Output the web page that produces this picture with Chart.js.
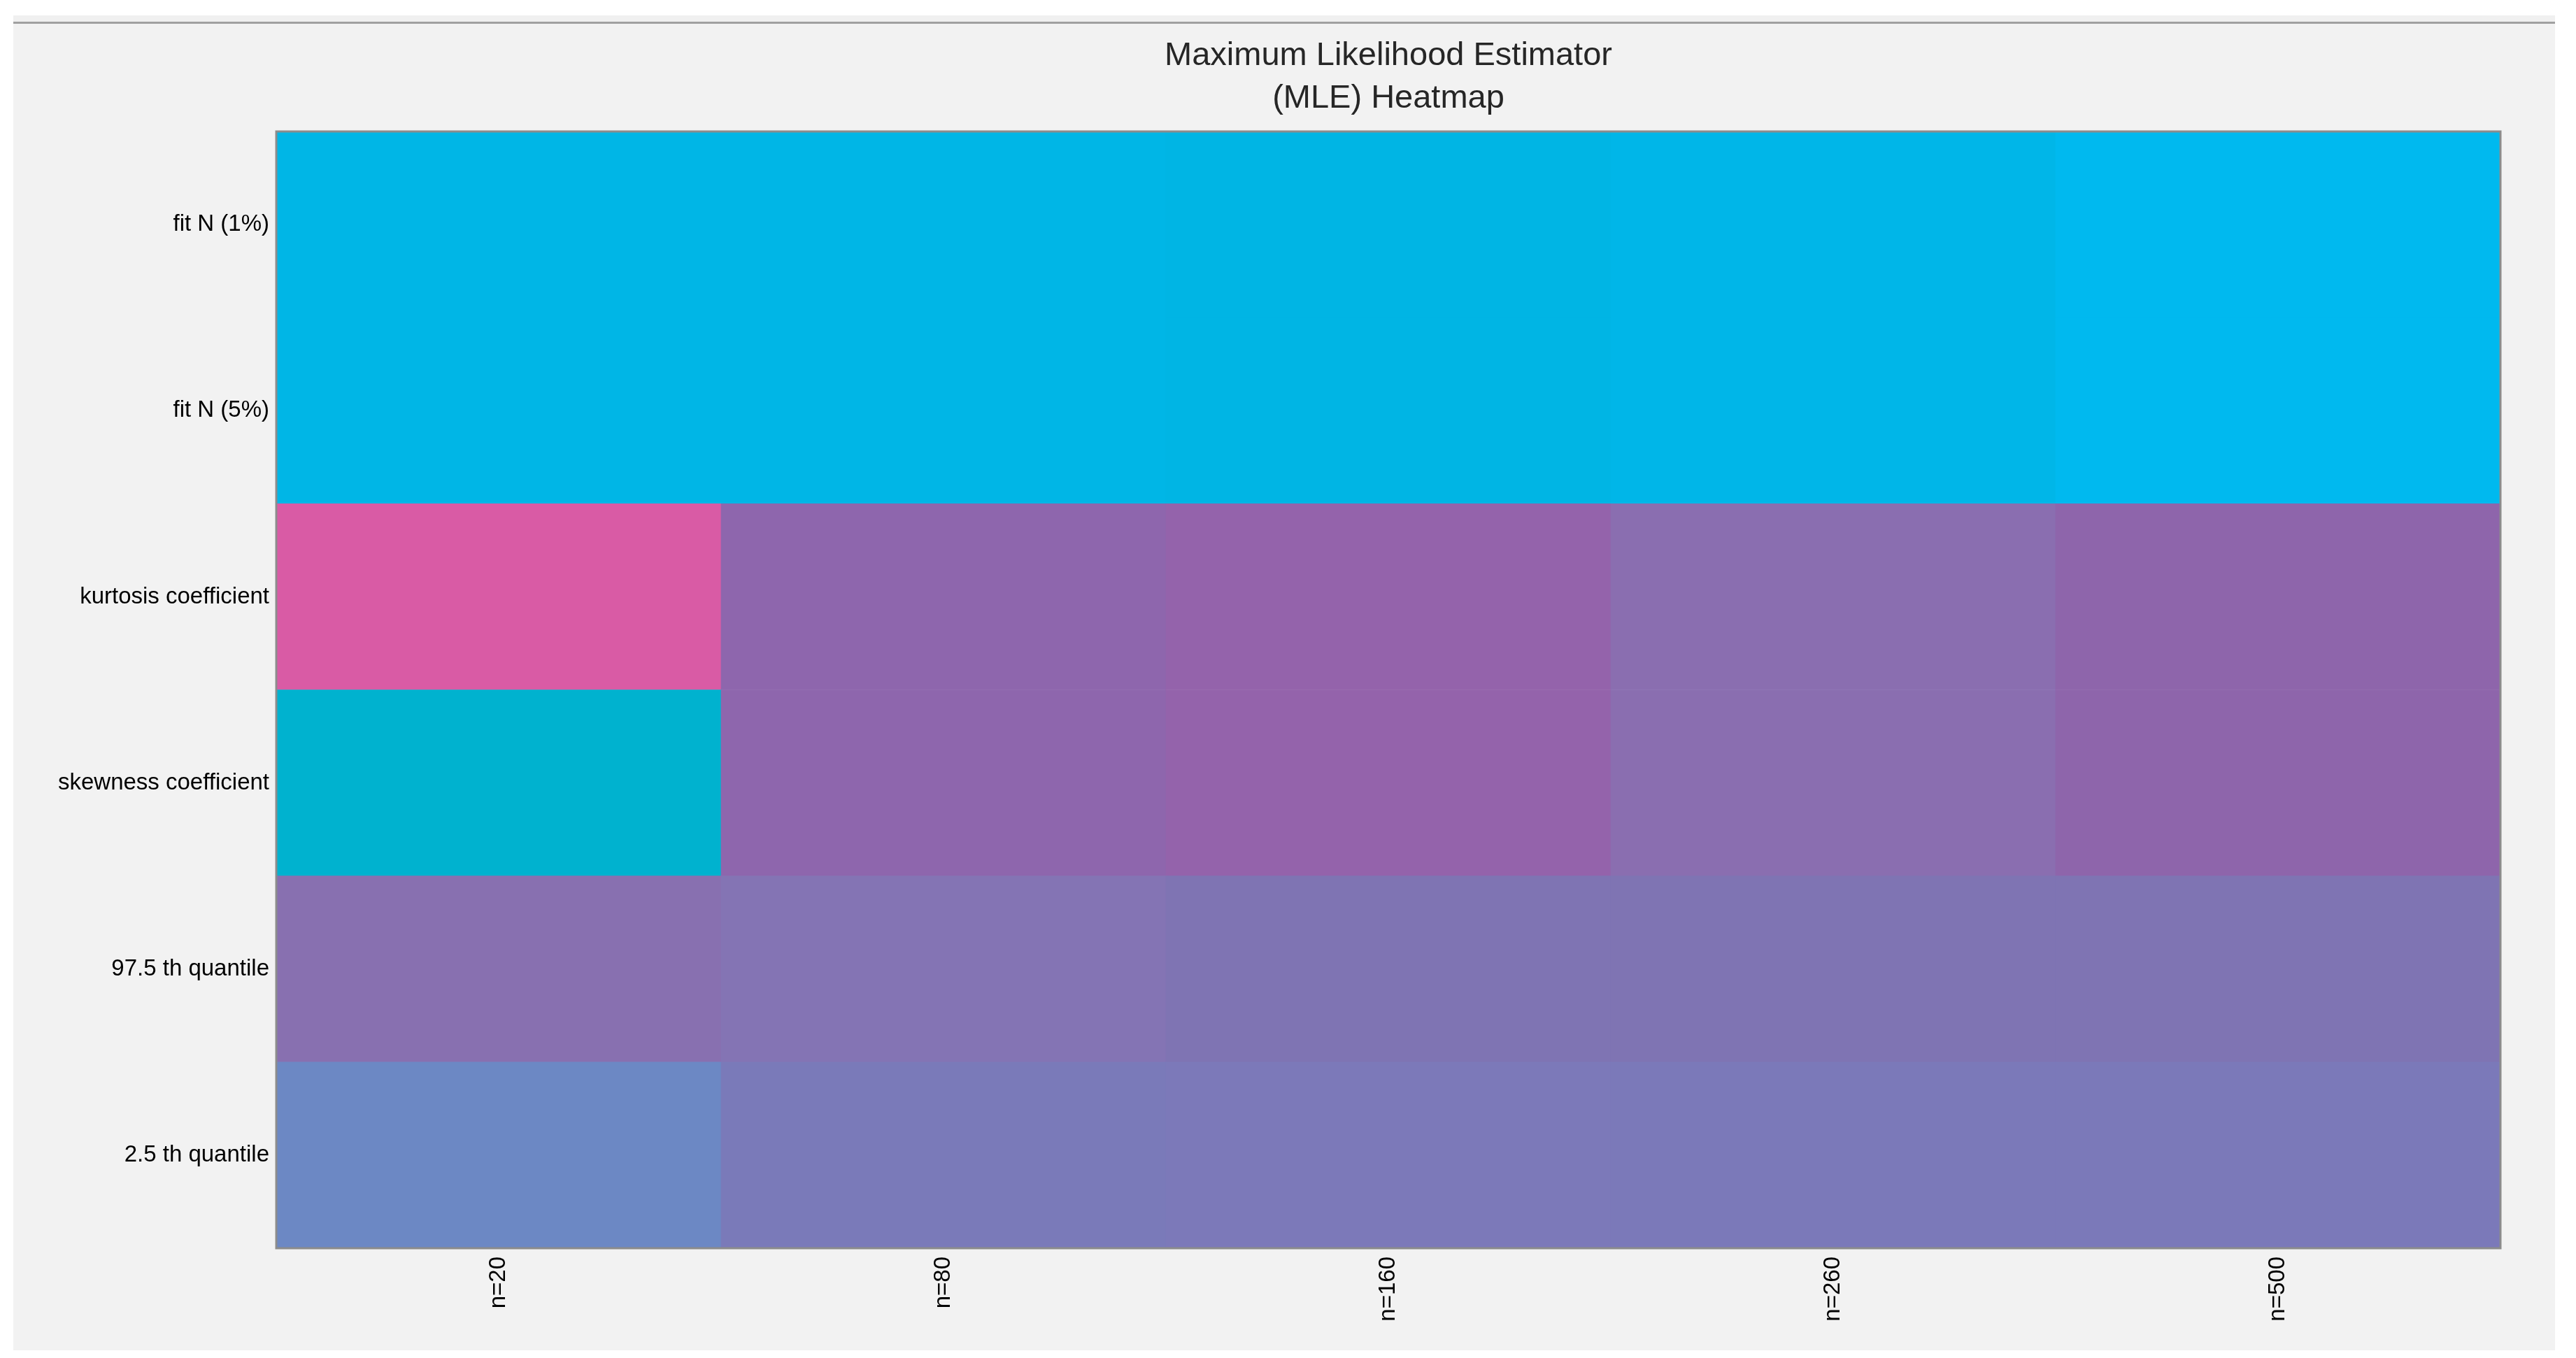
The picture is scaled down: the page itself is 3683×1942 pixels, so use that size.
<!DOCTYPE html>
<html>
<head>
<meta charset="utf-8">
<script src="https://cdn.jsdelivr.net/npm/chart.js@4.4.1/dist/chart.umd.min.js"></script>
<style>
  html, body { margin: 0; padding: 0; background: #ffffff; }
  #wrap { width: 3683px; height: 1942px; position: relative; }
</style>
</head>
<body>
<div id="wrap"><canvas id="heat" width="3683" height="1942"></canvas></div>
<script>
const columns = ['n=20', 'n=80', 'n=160', 'n=260', 'n=500'];
// rows listed bottom to top
const rows = ['2.5 th quantile', '97.5 th quantile', 'skewness coefficient', 'kurtosis coefficient', 'fit N (5%)', 'fit N (1%)'];
const cellColors = [
    ['#6c88c4', '#7a7ab9', '#7c79b9', '#7b79b9', '#7b79b9'],
    ['#8870b0', '#8474b4', '#7f74b3', '#7f74b3', '#7f74b3'],
    ['#00b2cf', '#8e66ad', '#9463ab', '#8a6eb0', '#8e65ab'],
    ['#d95ba5', '#8e66ad', '#9463ab', '#8a6eb0', '#8e65ab'],
    ['#00b6e6', '#00b6e6', '#00b5e4', '#00b6e8', '#00b9ef'],
    ['#00b6e6', '#00b6e6', '#00b5e4', '#00b6e8', '#00b9ef']
];
const titleLines = ['Maximum Likelihood Estimator', '(MLE) Heatmap'];

var datasets = rows.map(function(r, i) {
    return {
        label: r,
        data: columns.map(function() { return 1; }),
        backgroundColor: cellColors[i],
        borderWidth: 0,
        categoryPercentage: 1.0,
        barPercentage: 1.0
    };
});

const framePlugin = {
    id: 'frame',
    beforeDraw: function(chart) {
        var ctx = chart.ctx;
        ctx.save();
        ctx.fillStyle = '#f0f0f0';
        ctx.fillRect(19, 22, 3634, 10);
        ctx.fillStyle = '#a0a0a0';
        ctx.fillRect(19, 31, 3634, 3);
        ctx.fillStyle = '#f2f2f2';
        ctx.fillRect(19, 34, 3634, 1897);
        ctx.fillStyle = '#262626';
        ctx.font = '47px "Liberation Sans", Arial, sans-serif';
        ctx.textAlign = 'center';
        ctx.textBaseline = 'middle';
        var cx = (chart.chartArea.left + chart.chartArea.right) / 2;
        ctx.fillText(titleLines[0], cx, 80);
        ctx.fillText(titleLines[1], cx, 141);
        ctx.restore();
    },
    afterDraw: function(chart) {
        var a = chart.chartArea, ctx = chart.ctx;
        ctx.save();
        ctx.strokeStyle = '#8c8c8c';
        ctx.lineWidth = 3;
        ctx.strokeRect(a.left, a.top, a.right - a.left, a.bottom - a.top);
        ctx.restore();
    }
};

new Chart(document.getElementById('heat'), {
    type: 'bar',
    data: { labels: columns, datasets: datasets },
    plugins: [framePlugin],
    options: {
        responsive: false,
        animation: false,
        layout: { padding: { top: 188, right: 108, left: 0, bottom: 0 } },
        plugins: { legend: { display: false }, tooltip: { enabled: false } },
        scales: {
            x: {
                stacked: true,
                grid: { display: false, drawTicks: false },
                border: { display: false },
                ticks: {
                    minRotation: 90, maxRotation: 90, padding: 12,
                    color: '#000000',
                    font: { size: 33, family: '"Liberation Sans", Arial, sans-serif' }
                },
                afterFit: function(s) { s.height = 157; }
            },
            y: {
                stacked: true,
                min: 0, max: rows.length,
                grid: { display: false, drawTicks: false },
                border: { display: false },
                afterBuildTicks: function(s) {
                    s.ticks = rows.map(function(r, i) { return { value: i + 0.5 }; });
                },
                ticks: {
                    padding: 10,
                    color: '#000000',
                    font: { size: 33, family: '"Liberation Sans", Arial, sans-serif' },
                    callback: function(v) { return rows[Math.floor(v)]; }
                },
                afterFit: function(s) { s.width = 395; }
            }
        }
    }
});
</script>
</body>
</html>
